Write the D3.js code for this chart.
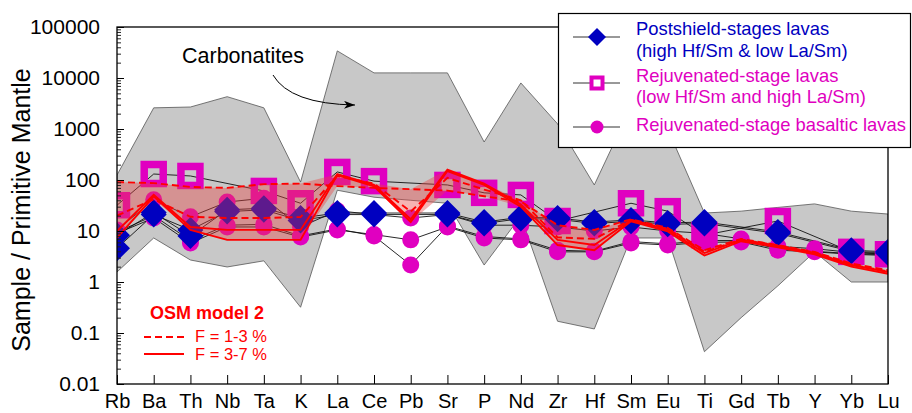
<!DOCTYPE html>
<html>
<head>
<meta charset="utf-8">
<script src="https://cdn.jsdelivr.net/npm/d3@7"></script>
<style>
  body { margin: 0; background: #fff; }
  svg text { font-family: "Liberation Sans", Arial, sans-serif; }
</style>
</head>
<body>
<svg id="vis"></svg>
<script>
//DATOS--------------------------------------------------------------------------------------------
const ELEMENTOS = ["Rb", "Ba", "Th", "Nb", "Ta", "K", "La", "Ce", "Pb", "Sr", "P", "Nd",
  "Zr", "Hf", "Sm", "Eu", "Ti", "Gd", "Tb", "Y", "Yb", "Lu"];
const TICKS_Y = [0.01, 0.1, 1, 10, 100, 1000, 10000, 100000];

// campo de carbonatitas (limite superior e inferior)
const CARBONATITA_MAX = [125, 2600, 2700, 4300, 2600, 91, 34000, 12600, 12600, 12600, 556, 8000,
  1260, 80, 2700, 1000, 22.5, 24.5, 29, 34, 24.5, 21.5];
const CARBONATITA_MIN = [1.57, 7.3, 2.7, 1.97, 2.6, 0.32, 63, 46, 40, 35, 2.15, 19.6,
  0.17, 0.12, 7.3, 7.3, 0.043, 0.2, 0.84, 3.9, 1.0, 1.0];

// muestras (null = sin dato)
const POSTESCUDO_1 = [8.3, 23, 8, 26, 28, 18, 22.5, 22.5, null, 22.5, 15, 18.6,
  18, 15, 16.5, 14.4, 15, null, 9.6, null, 4.2, 3.9];
const POSTESCUDO_2 = [4.6, 21, 10.5, 24, 26, 16, 21, 21, null, 21, 14, 17.5,
  17, 14, 15.5, 13.5, 14, null, 9, null, 4.0, 3.7];
const REJUVENECIDO = [32, 131, 120, null, 61, 35, 144, 95, null, 80, 56, 51,
  15.7, null, 35, 24.5, 8.3, null, 15.7, null, 3.9, 3.5];
const BASALTICO_1 = [10.5, 41, 19, 37, 44, 12, 25, 21, 18, 21, 13, 13,
  12, 10, 12, 10, 9, 7, 5, 4.5, 3.8, 3.5];
const BASALTICO_2 = [9, 18, 5.8, 12, 12, 7.6, 10.5, 8.5, 6.7, 12, 7.3, 6.7,
  3.9, 3.9, 5.8, 5.3, 6, 6.1, 4.2, 3.9, 3.5, 3.3];
const BASALTICO_3 = [9.5, 20, 6.5, 13, 13.5, 8, 11, 8, 2.15, 12.5, 7.8, 7,
  4.2, 4.0, 6.2, 5.6, 6.5, 6.5, 4.5, 4.0, 3.6, 3.4];

// modelo OSM 2
const OSM_F1 = [91, 87, 73, 70, 83, 85, 76, 70, 66, 62, 48, 38,
  13, 10.5, 17, 11.5, 4.2, 7, 5.3, 3.9, 2.3, 1.7];
const OSM_F3_DASH = [20, 42, 19, 18, 18, 18.8, 120, 85, 24, 110, 65, 40,
  7.5, 7, 16.5, 11, 3.9, 6.8, 5.2, 3.8, 2.2, 1.6];
const OSM_F3 = [10, 51, 12, 10.5, 10.5, 10.5, 130, 80, 17, 160, 85, 33,
  6.7, 5.3, 16.4, 10.5, 3.7, 6.7, 5.1, 3.7, 2.15, 1.57];
const OSM_F7 = [7.3, 48, 10.5, 6.7, 6.7, 6.7, 125, 75, 15, 150, 80, 30,
  5.3, 4.2, 15.5, 9.8, 3.3, 6.3, 4.8, 3.5, 2.0, 1.45];

const LEYENDA = [
  ["Postshield-stages lavas", "(high Hf/Sm & low La/Sm)"],
  ["Rejuvenated-stage lavas", "(low Hf/Sm and high La/Sm)"],
  ["Rejuvenated-stage basaltic lavas"],
];
const LEYENDA_OSM = ["OSM model 2", "F = 1-3 %", "F = 3-7 %"];

//CONSTANTES---------------------------------------------------------------------------------------
const WIDTH = 912;
const HEIGHT = 413;
const MARGIN = { top: 27, bottom: 29, left: 117, right: 24 };
const AZUL = "#0000c0";
const MAGENTA = "#e000c0";
const ROJO = "#ff0000";
const FUENTE = '"Liberation Sans", Arial, sans-serif';

const svg = d3.select("#vis").attr("width", WIDTH).attr("height", HEIGHT);

const escalaX = d3.scalePoint().domain(ELEMENTOS).range([MARGIN.left, WIDTH - MARGIN.right]);
const escalaY = d3.scaleLog().domain([0.01, 100000]).range([HEIGHT - MARGIN.bottom, MARGIN.top]);

//FUNCIONES----------------------------------------------------------------------------------------
function puntos(valores) {
  return ELEMENTOS.map((e, i) => ({ e: e, v: valores[i] })).filter((d) => d.v != null);
}
const linea = d3.line().x((d) => escalaX(d.e)).y((d) => escalaY(d.v));

function rombo(r) {
  return `M0,${-r}L${r},0L0,${r}L${-r},0Z`;
}

svg.append("defs").append("clipPath").attr("id", "zona")
  .append("rect")
  .attr("x", MARGIN.left).attr("y", MARGIN.top)
  .attr("width", WIDTH - MARGIN.left - MARGIN.right)
  .attr("height", HEIGHT - MARGIN.top - MARGIN.bottom);

svg.select("defs").append("marker")
  .attr("id", "flecha")
  .attr("markerUnits", "userSpaceOnUse")
  .attr("markerWidth", 12).attr("markerHeight", 8)
  .attr("refX", 11).attr("refY", 4)
  .attr("orient", "auto")
  .append("path").attr("d", "M0,0L11,4L0,8L3,4Z").attr("fill", "black");

const grafico = svg.append("g").attr("clip-path", "url(#zona)");

//CAMPO DE CARBONATITAS----------------------------------------------------------------------------
const campo = ELEMENTOS.map((e, i) => ({ e: e, min: CARBONATITA_MIN[i], max: CARBONATITA_MAX[i] }));
grafico.append("path")
  .datum(campo)
  .attr("d", d3.area().x((d) => escalaX(d.e)).y0((d) => escalaY(d.min)).y1((d) => escalaY(d.max)))
  .attr("fill", "#c8c8c8")
  .attr("stroke", "#555")
  .attr("stroke-width", 0.8);

//MUESTRAS-----------------------------------------------------------------------------------------
const MUESTRAS = [
  { valores: BASALTICO_1, tipo: "circulo" },
  { valores: BASALTICO_2, tipo: "circulo" },
  { valores: BASALTICO_3, tipo: "circulo" },
  { valores: REJUVENECIDO, tipo: "cuadrado" },
  { valores: POSTESCUDO_1, tipo: "rombo" },
  { valores: POSTESCUDO_2, tipo: "rombo" },
];

grafico.selectAll("path.muestra")
  .data(MUESTRAS)
  .join("path")
  .attr("class", "muestra")
  .attr("d", (d) => linea(puntos(d.valores)))
  .attr("fill", "none")
  .attr("stroke", "#111")
  .attr("stroke-width", 0.9);

MUESTRAS.filter((m) => m.tipo == "circulo").forEach((m) => {
  grafico.append("g").selectAll("circle")
    .data(puntos(m.valores))
    .join("circle")
    .attr("cx", (d) => escalaX(d.e))
    .attr("cy", (d) => escalaY(d.v))
    .attr("r", 8.5)
    .attr("fill", MAGENTA);
});
MUESTRAS.filter((m) => m.tipo == "cuadrado").forEach((m) => {
  grafico.append("g").selectAll("rect")
    .data(puntos(m.valores))
    .join("rect")
    .attr("x", (d) => escalaX(d.e) - 9.5)
    .attr("y", (d) => escalaY(d.v) - 9.5)
    .attr("width", 19)
    .attr("height", 19)
    .attr("fill", "none")
    .attr("stroke", MAGENTA)
    .attr("stroke-width", 7.5);
});
MUESTRAS.filter((m) => m.tipo == "rombo").forEach((m) => {
  grafico.append("g").selectAll("path")
    .data(puntos(m.valores))
    .join("path")
    .attr("transform", (d) => `translate(${escalaX(d.e)},${escalaY(d.v)})`)
    .attr("d", rombo(13))
    .attr("fill", AZUL);
});

//MODELO OSM---------------------------------------------------------------------------------------
const MODELOS = [
  { valores: OSM_F1, dash: "7,4" },
  { valores: OSM_F3_DASH, dash: "7,4" },
  { valores: OSM_F3, dash: null },
  { valores: OSM_F7, dash: null },
];
const banda = ELEMENTOS.map((e, i) => ({
  e: e,
  min: d3.min(MODELOS, (m) => m.valores[i]),
  max: d3.max(MODELOS, (m) => m.valores[i]),
}));
grafico.append("path")
  .datum(banda)
  .attr("d", d3.area().x((d) => escalaX(d.e)).y0((d) => escalaY(d.min)).y1((d) => escalaY(d.max)))
  .attr("fill", "#e84040")
  .attr("fill-opacity", 0.4);

grafico.selectAll("path.modelo")
  .data(MODELOS)
  .join("path")
  .attr("class", "modelo")
  .attr("d", (d) => linea(puntos(d.valores)))
  .attr("fill", "none")
  .attr("stroke", ROJO)
  .attr("stroke-width", 1.9)
  .attr("stroke-dasharray", (d) => d.dash);

//EJES---------------------------------------------------------------------------------------------
const MENORES = d3.range(-2, 5).flatMap((p) => d3.range(2, 10).map((k) => k * Math.pow(10, p)));

svg.append("g")
  .attr("transform", `translate(${MARGIN.left},0)`)
  .call(d3.axisLeft(escalaY).tickValues(MENORES).tickSize(-4).tickFormat(""))
  .call((g) => g.select(".domain").remove())
  .selectAll("line").attr("stroke", "#222");

svg.append("g")
  .attr("transform", `translate(${MARGIN.left},0)`)
  .call(d3.axisLeft(escalaY).tickValues(TICKS_Y).tickFormat((d) => String(d))
    .tickSizeInner(-7).tickSizeOuter(0).tickPadding(17))
  .call((g) => g.select(".domain").remove())
  .call((g) => g.selectAll("text").attr("font-size", 21).attr("font-family", FUENTE).attr("fill", "black"));

svg.append("g")
  .attr("transform", `translate(0,${HEIGHT - MARGIN.bottom})`)
  .call(d3.axisBottom(escalaX).tickSizeInner(-9).tickSizeOuter(0).tickPadding(10))
  .call((g) => g.select(".domain").remove())
  .call((g) => g.selectAll("text").attr("font-size", 20).attr("font-family", FUENTE).attr("fill", "black"));

svg.append("rect")
  .attr("x", MARGIN.left).attr("y", MARGIN.top)
  .attr("width", WIDTH - MARGIN.left - MARGIN.right)
  .attr("height", HEIGHT - MARGIN.top - MARGIN.bottom)
  .attr("fill", "none")
  .attr("stroke", "black")
  .attr("stroke-width", 1.3);

svg.append("text")
  .attr("transform", "translate(30,210) rotate(-90)")
  .attr("text-anchor", "middle")
  .attr("font-size", 25)
  .text("Sample / Primitive Mantle");

//CARBONATITAS-------------------------------------------------------------------------------------
svg.append("text").attr("x", 182).attr("y", 63).attr("font-size", 21.5).text("Carbonatites");
svg.append("path")
  .attr("d", "M273,75 Q290,104 355,105")
  .attr("fill", "none")
  .attr("stroke", "black")
  .attr("stroke-width", 1)
  .attr("marker-end", "url(#flecha)");

//LEYENDA------------------------------------------------------------------------------------------
const leyenda = svg.append("g");
leyenda.append("rect")
  .attr("x", 558.5).attr("y", 13.5)
  .attr("width", 352).attr("height", 134)
  .attr("fill", "white")
  .attr("stroke", "black")
  .attr("stroke-width", 1.2);

const filasY = [37, 83, 127];
const textosY = [[35, 57], [82, 103], [131]];
const colores = [AZUL, MAGENTA, MAGENTA];
filasY.forEach((yy, i) => {
  leyenda.append("line")
    .attr("x1", 573).attr("x2", 620).attr("y1", yy).attr("y2", yy)
    .attr("stroke", "#333").attr("stroke-width", 1);
  LEYENDA[i].forEach((t, j) => {
    leyenda.append("text")
      .attr("x", 636).attr("y", textosY[i][j])
      .attr("font-size", 18.4)
      .attr("fill", colores[i])
      .text(t);
  });
});
leyenda.append("path").attr("transform", `translate(597,${filasY[0]})`).attr("d", rombo(9)).attr("fill", AZUL);
leyenda.append("rect").attr("x", 597 - 5.5).attr("y", filasY[1] - 5.5).attr("width", 11).attr("height", 11)
  .attr("fill", "white").attr("stroke", MAGENTA).attr("stroke-width", 4);
leyenda.append("circle").attr("cx", 597).attr("cy", filasY[2]).attr("r", 6.5).attr("fill", MAGENTA);

//LEYENDA MODELO-----------------------------------------------------------------------------------
svg.append("text").attr("x", 150).attr("y", 319).attr("font-size", 18).attr("font-weight", "bold")
  .attr("fill", ROJO).text(LEYENDA_OSM[0]);
svg.append("line").attr("x1", 144).attr("x2", 184).attr("y1", 337).attr("y2", 337)
  .attr("stroke", ROJO).attr("stroke-width", 1.9).attr("stroke-dasharray", "7,4");
svg.append("text").attr("x", 195).attr("y", 342).attr("font-size", 16.5).attr("fill", ROJO).text(LEYENDA_OSM[1]);
svg.append("line").attr("x1", 144).attr("x2", 184).attr("y1", 354).attr("y2", 354)
  .attr("stroke", ROJO).attr("stroke-width", 1.9);
svg.append("text").attr("x", 195).attr("y", 360).attr("font-size", 16.5).attr("fill", ROJO).text(LEYENDA_OSM[2]);
</script>
</body>
</html>
